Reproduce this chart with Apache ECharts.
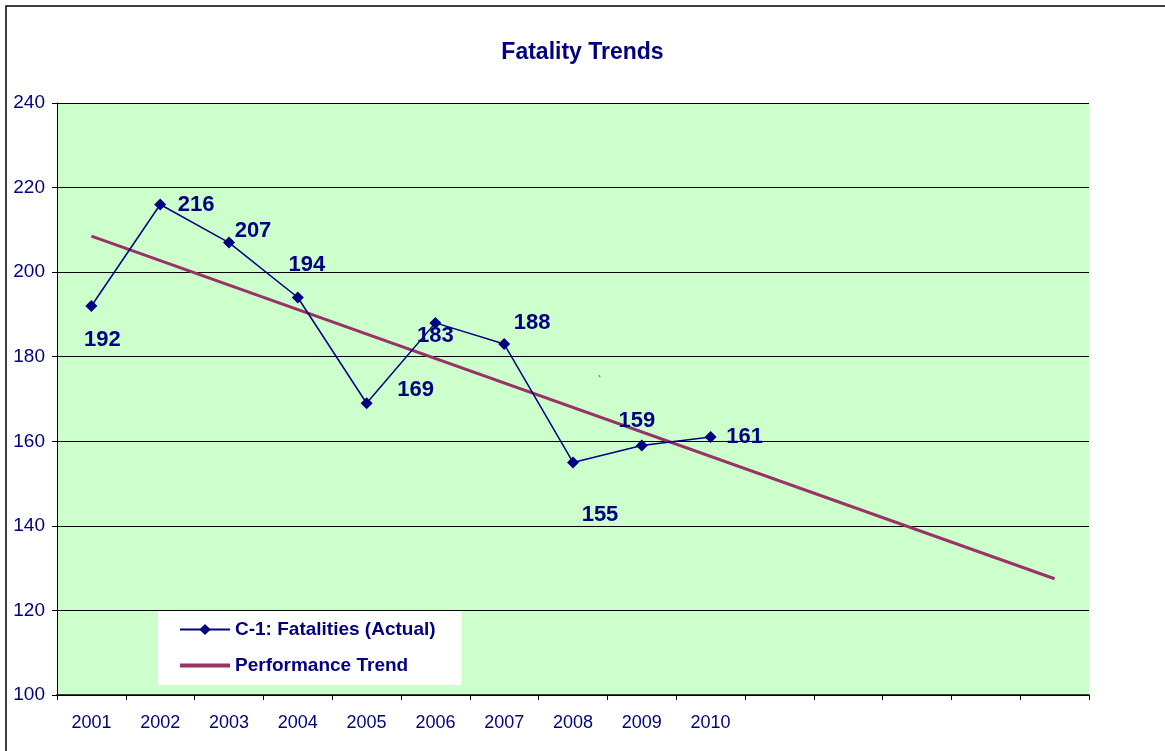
<!DOCTYPE html>
<html>
<head>
<meta charset="utf-8">
<script src="https://cdn.jsdelivr.net/npm/echarts@6/dist/echarts.min.js"></script>
<style>
  html, body { margin: 0; padding: 0; background: #fff; }
  #chart { width: 1165px; height: 751px; }
</style>
</head>
<body>
<div id="chart"></div>
<script>
// Kategori sumbu X (10 tahun + 5 slot kosong untuk garis tren)
const years = ['2001', '2002', '2003', '2004', '2005', '2006', '2007', '2008', '2009', '2010', '', '', '', '', ''];

// Nilai aktual (posisi titik)
const actual = [192, 216, 207, 194, 169, 188, 183, 155, 159, 161];

// Teks label seperti di gambar (2006/2007 tertukar di sumber)
const pointLabels = ['192', '216', '207', '194', '169', '183', '188', '155', '159', '161'];

// Garis tren: ujung awal dan akhir
const trend = [208.5, null, null, null, null, null, null, null, null, null, null, null, null, null, 127.5];

const navy = '#000080';
const labelOffsets = [[11, 34], [36, 0], [24, -12], [9, -33], [49, -13], [0, 13], [28, -21], [27, 53], [-5, -25], [34, 0]];

const chart = echarts.init(document.getElementById('chart'));

const actualData = actual.map((v, i) => ({
    value: v,
    label: {
        show: true,
        position: 'inside',
        offset: labelOffsets[i],
        formatter: pointLabels[i]
    }
}));

chart.setOption({
    animation: false,
    backgroundColor: '#fff',
    title: {
        text: 'Fatality Trends',
        left: 'center',
        top: 36,
        textStyle: { color: navy, fontFamily: 'Liberation Sans', fontWeight: 'bold', fontSize: 23 }
    },
    graphic: [{
        type: 'rect',
        shape: { x: 6, y: 6, width: 1200, height: 800 },
        style: { fill: 'none', stroke: '#000', lineWidth: 1.5 },
        silent: true
    }, {
        // tanda kecil yang tersisa di gambar asli
        type: 'text',
        left: 598,
        top: 376,
        style: { text: '`', fill: '#000', font: '10px Liberation Sans' },
        silent: true
    }],
    grid: {
        left: 57, right: 76, top: 103, bottom: 56,
        show: true,
        backgroundColor: '#CCFFCC',
        borderWidth: 0
    },
    legend: {
        orient: 'vertical',
        left: 158,
        top: 611,
        backgroundColor: '#fff',
        padding: [9, 26, 10, 20],
        itemWidth: 50,
        itemHeight: 14,
        itemGap: 17,
        textStyle: { color: navy, fontFamily: 'Liberation Sans', fontWeight: 'bold', fontSize: 19 },
        data: [
            { name: 'C-1: Fatalities (Actual)' },
            { name: 'Performance Trend', itemStyle: { opacity: 0 }, lineStyle: { width: 4 } }
        ]
    },
    xAxis: {
        type: 'category',
        data: years,
        boundaryGap: true,
        axisLine: { lineStyle: { color: '#000', width: 1.5 } },
        axisTick: { show: true, length: 5, lineStyle: { color: '#000' } },
        axisLabel: { color: navy, fontFamily: 'Liberation Sans', fontSize: 18, margin: 19 },
        splitLine: { show: false }
    },
    yAxis: {
        type: 'value',
        min: 100,
        max: 240,
        interval: 20,
        axisLine: { show: true, lineStyle: { color: '#000', width: 1 } },
        axisTick: { show: true, length: 5, lineStyle: { color: '#000' } },
        axisLabel: { color: navy, fontFamily: 'Liberation Sans', fontSize: 19, margin: 12 },
        splitLine: { show: true, lineStyle: { color: '#000', width: 1 } }
    },
    series: [
        {
            name: 'C-1: Fatalities (Actual)',
            type: 'line',
            data: actualData,
            symbol: 'diamond',
            symbolSize: 12,
            z: 3,
            itemStyle: { color: navy },
            lineStyle: { color: navy, width: 1.5 },
            label: {
                color: navy,
                fontFamily: 'Liberation Sans',
                fontWeight: 'bold',
                fontSize: 22
            }
        },
        {
            name: 'Performance Trend',
            type: 'line',
            data: trend,
            connectNulls: true,
            symbol: 'none',
            z: 2,
            itemStyle: { color: '#993366' },
            lineStyle: { color: '#993366', width: 3 }
        }
    ]
});
</script>
</body>
</html>
